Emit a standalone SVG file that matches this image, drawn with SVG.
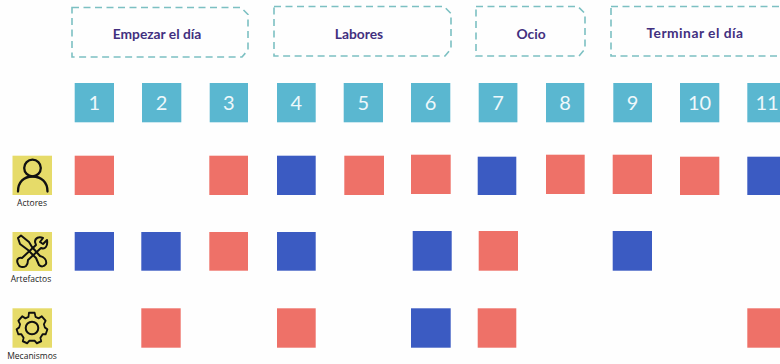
<svg xmlns="http://www.w3.org/2000/svg" width="780" height="364" viewBox="0 0 780 364">
<style>
.f{fill:none;stroke:#7cc0c2;stroke-width:1.600;stroke-dasharray:7 4.500}
.t{font:700 13.800px Lato,"Liberation Sans",sans-serif;fill:#42307f;text-anchor:middle}
.n{fill:#5ab7d0}
.nt{font:400 20px Lato,"Liberation Sans",sans-serif;fill:#eef8fb;text-anchor:middle}
.r{fill:#ee7168}
.b{fill:#3b5bc2}
.y{fill:#e6db69}
.l{font:400 8.500px "Open Sans","Liberation Sans",sans-serif;fill:#222;text-anchor:middle}
.i{fill:none;stroke:#111;stroke-width:2;stroke-linecap:round;stroke-linejoin:round}
</style>
<rect width="780" height="364" fill="#fefefe"/>
<g id="fases">
<g id="fase-empezar"><path class="f" d="M72 7.500H241L248 14.500V50L242 57H72Z"/><text class="t" x="157" y="39">Empezar el día</text></g>
<g id="fase-labores"><path class="f" d="M274 6.500H444L451 13.500V49L445 56H274Z"/><text class="t" x="359" y="39">Labores</text></g>
<g id="fase-ocio"><path class="f" d="M476 6.500H578L585 13.500V49L579 56H476Z"/><text class="t" x="531" y="39">Ocio</text></g>
<g id="fase-terminar"><path class="f" d="M611 6.500H790V56H611Z"/><text class="t" x="695" y="38" style="letter-spacing:.5px">Terminar el día</text></g>
</g>
<g id="numeros">
<g id="n1"><rect class="n" x="74.700" y="83" width="39.300" height="39.300"/><text class="nt" x="94.300" y="110">1</text></g>
<g id="n2"><rect class="n" x="142" y="83" width="39.300" height="39.300"/><text class="nt" x="161.600" y="110">2</text></g>
<g id="n3"><rect class="n" x="209.700" y="83" width="38.300" height="39.300"/><text class="nt" x="228.800" y="110">3</text></g>
<g id="n4"><rect class="n" x="277" y="83" width="38.700" height="39.300"/><text class="nt" x="296.300" y="110">4</text></g>
<g id="n5"><rect class="n" x="343.700" y="83" width="39.300" height="39.300"/><text class="nt" x="363.300" y="110">5</text></g>
<g id="n6"><rect class="n" x="411" y="83" width="39.300" height="39.300"/><text class="nt" x="430.600" y="110">6</text></g>
<g id="n7"><rect class="n" x="478.700" y="83" width="38.700" height="39.300"/><text class="nt" x="498" y="110">7</text></g>
<g id="n8"><rect class="n" x="546" y="83" width="38.300" height="39.300"/><text class="nt" x="565.100" y="110">8</text></g>
<g id="n9"><rect class="n" x="613.300" y="83" width="38.700" height="39.300"/><text class="nt" x="632.600" y="110">9</text></g>
<g id="n10"><rect class="n" x="680" y="83" width="39.300" height="39.300"/><text class="nt" x="699.600" y="110">10</text></g>
<g id="n11"><rect class="n" x="747.300" y="83" width="39.300" height="39.300"/><text class="nt" x="767" y="110">11</text></g>
</g>
<g id="actores">
<rect class="y" x="12.500" y="155.700" width="39.500" height="39.300"/>
<circle class="i" cx="32.500" cy="168" r="8.300" style="stroke-width:2.300"/>
<path class="i" style="stroke-width:2.300" d="M18 191.500C18 182 24 176.500 32.500 176.500S47.500 182 47.500 191.500"/>
<text class="l" x="32" y="206">Actores</text>
</g>
<g id="artefactos">
<rect class="y" x="12.500" y="232" width="39.500" height="39"/>
<path class="i" d="M18 238L21 235.500L29 242L32 247L40 256C44 257 47 260 46 264C44 267 41 267 39 265L36 258L28 250L24 247L20 244Z"/>
<path class="i" d="M47 240L43 244L40 242L43 238C39 236 35 238 35 242L36 245L22 258C18 257 16 260 18 264C19 267 23 268 26 266C28 264 28 262 28 260L41 248C45 250 48 246 47 240Z"/>
<text class="l" x="31" y="282">Artefactos</text>
</g>
<g id="mecanismos">
<rect class="y" x="12.500" y="308.300" width="39.500" height="39.400"/>
<circle class="i" cx="32" cy="328" r="6.300"/>
<path class="i" transform="translate(32 328) scale(.88 1) translate(-32.500 -328.700)" d="M29 313.500H35.500L36.500 317.500L40 319L43.500 317L48 321.500L46 325L47 328L50 330L48 335L44.500 335L42 338.500L43 342L38 344L35.500 341.500H29.500L27 344L22 342L23 338.500L20.500 335L17 335L15 330L18 328L19 325L17 321.500L21.500 317L25 319L28.500 317.500Z"/>
<text class="l" x="32" y="359">Mecanismos</text>
</g>
<g id="matriz">
<rect class="r" x="74.700" y="155.700" width="39.300" height="39.300"/>
<rect class="r" x="209.300" y="155.700" width="38.700" height="39.300"/>
<rect class="b" x="277" y="155.700" width="38.700" height="39.300"/>
<rect class="r" x="344.300" y="155.700" width="39.700" height="39.300"/>
<rect class="r" x="411" y="154.700" width="39.700" height="39.300"/>
<rect class="b" x="477.700" y="156.700" width="38.600" height="38.300"/>
<rect class="r" x="546" y="154.700" width="38.700" height="39.300"/>
<rect class="r" x="612.700" y="154.700" width="39.300" height="39.300"/>
<rect class="r" x="680" y="156.700" width="39.300" height="38.300"/>
<rect class="b" x="747.300" y="156.700" width="39" height="38.300"/>
<rect class="b" x="74.700" y="232" width="39.300" height="38.700"/>
<rect class="b" x="141.300" y="232" width="39.400" height="38.700"/>
<rect class="r" x="209.300" y="232" width="38.700" height="38.700"/>
<rect class="b" x="277" y="232" width="38.700" height="38.700"/>
<rect class="b" x="412.700" y="231" width="39" height="39.700"/>
<rect class="r" x="478.700" y="231" width="39.300" height="39.700"/>
<rect class="b" x="612.700" y="231" width="39.300" height="39.700"/>
<rect class="r" x="141.300" y="308.300" width="39.400" height="39.400"/>
<rect class="r" x="277" y="308.300" width="38.700" height="39.400"/>
<rect class="b" x="411" y="308.300" width="39.700" height="39.400"/>
<rect class="r" x="477.700" y="308.300" width="38.600" height="39.400"/>
<rect class="r" x="747.300" y="308.300" width="39" height="39.400"/>
</g>
</svg>
